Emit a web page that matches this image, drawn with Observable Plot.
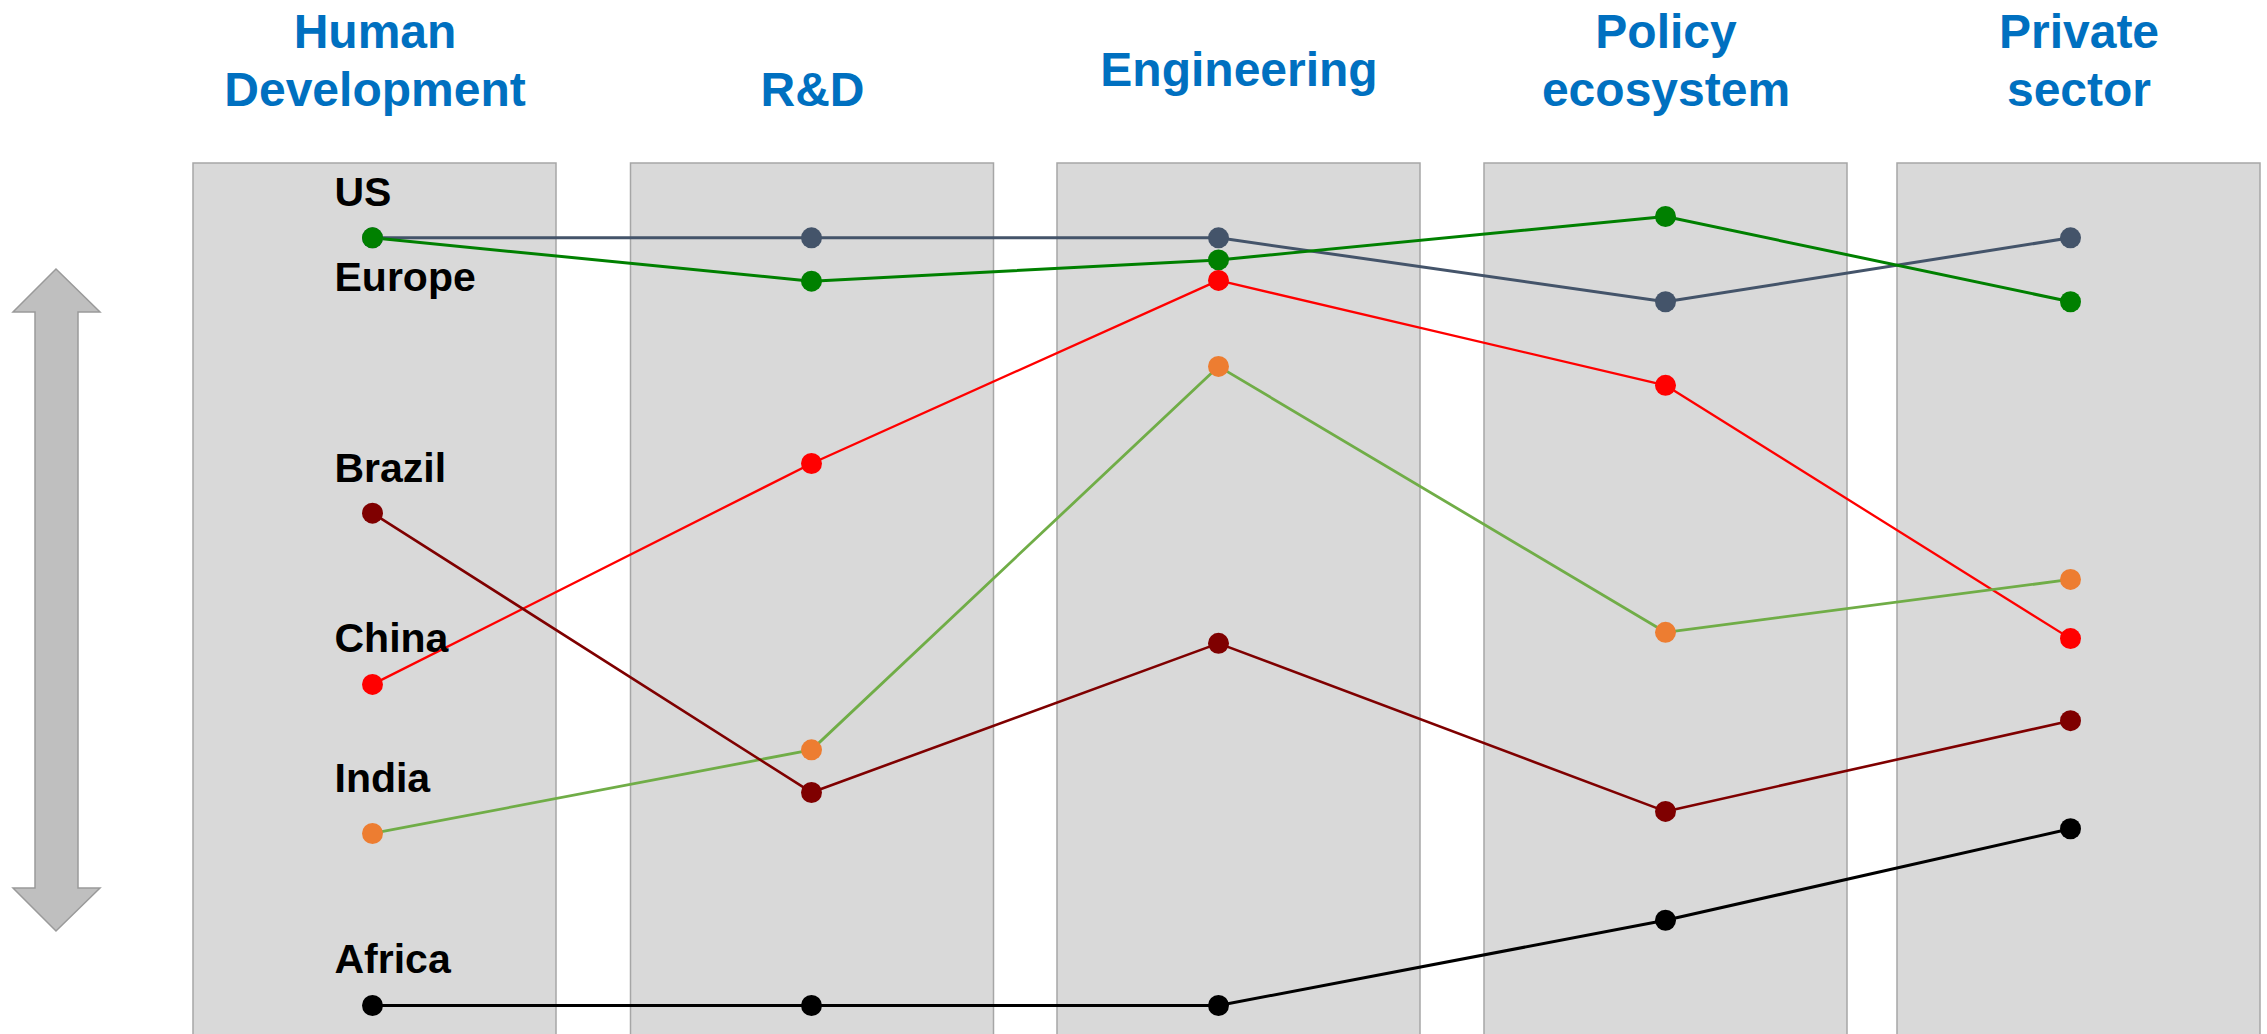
<!DOCTYPE html>
<html>
<head>
<meta charset="utf-8">
<script src="https://cdn.jsdelivr.net/npm/d3@7"></script>
<script src="https://cdn.jsdelivr.net/npm/@observablehq/plot@0.6"></script>
<style>
  html, body { margin: 0; padding: 0; background: #fff; }
  #chart svg { display: block; }
</style>
</head>
<body>
<div id="chart"></div>
<script>
// ---- Data ----
const pillars = ["Human\nDevelopment", "R&D", "Engineering", "Policy\necosystem", "Private\nsector"];
const countries = ["US", "Europe", "China", "India", "Brazil", "Africa"];
const usValues     = [97.3, 97.3, 97.3, 89.2, 97.3];
const europeValues = [97.3, 91.8, 94.5, 100.0, 89.2];
const chinaValues  = [40.7, 68.7, 91.9, 78.6, 46.5];
const indiaValues  = [21.8, 32.4, 81.0, 47.3, 54.0];
const brazilValues = [62.4, 27.0, 45.9, 24.6, 36.1];
const africaValues = [0.0, 0.0, 0.0, 10.8, 22.4];

const valuesByCountry = {
  US: usValues, Europe: europeValues, China: chinaValues,
  India: indiaValues, Brazil: brazilValues, Africa: africaValues
};

// ---- Styles ----
const styles = {
  US:     {dot: "#44546A", line: "#44546A", width: 3,   labelDy: -32},
  Europe: {dot: "#008000", line: "#008000", width: 3,   labelDy: 53},
  China:  {dot: "#FF0000", line: "#FF0000", width: 2.3, labelDy: -32},
  India:  {dot: "#ED7D31", line: "#70AD47", width: 2.8, labelDy: -41},
  Brazil: {dot: "#7F0000", line: "#7F0000", width: 2.6, labelDy: -31},
  Africa: {dot: "#000000", line: "#000000", width: 3,   labelDy: -33}
};
// small horizontal offsets of each panel / header relative to its column of dots (layout)
const panelShift = [2.5, 1, 20.5, 0.5, 8.5];

const rows = countries.flatMap(c => valuesByCountry[c].map((v, i) => ({country: c, i, v})));
const FONT = "'Liberation Sans', Arial, Helvetica, sans-serif";

function leftArrow() {
  const d = "M56,269 L100,312 L78,312 L78,888 L100,888 L56,931 L13,888 L35,888 L35,312 L13,312 Z";
  return d3.create("svg:path")
    .attr("d", d)
    .attr("fill", "#BFBFBF")
    .attr("stroke", "#9A9A9A")
    .attr("stroke-width", 1.5)
    .node();
}

const headerIdx = pillars.map((d, i) => i);

const marks = [
  // column panels
  ...headerIdx.map(k => Plot.rect([k], {
    x1: d => d, x2: d => d, dx: panelShift[k],
    insetLeft: -181.5, insetRight: -181.5, insetTop: 163, insetBottom: -10,
    fill: "#D9D9D9", stroke: "#A6A6A6", strokeWidth: 1.5
  })),
  leftArrow,
  // column headers
  ...headerIdx.map(k => Plot.text([k], {
    x: d => d, text: d => pillars[d], frameAnchor: "top",
    dx: panelShift[k], dy: k === 2 ? 85 : 105,
    lineAnchor: "bottom", lineHeight: 1.2, fontSize: 48, fontWeight: "bold",
    fill: "#0070C0", textAnchor: "middle"
  })),
  // lines
  ...countries.map(c => Plot.line(rows.filter(r => r.country === c), {
    x: "i", y: "v", stroke: styles[c].line, strokeWidth: styles[c].width
  })),
  // dots
  ...countries.map(c => Plot.dot(rows.filter(r => r.country === c), {
    x: "i", y: "v", r: 10.5, fill: styles[c].dot, stroke: "none"
  })),
  // country labels
  ...countries.map(c => Plot.text(rows.filter(r => r.country === c && r.i === 0), {
    x: "i", y: "v", text: "country", dx: -38, dy: styles[c].labelDy,
    lineAnchor: "bottom", textAnchor: "start", fontSize: 41, fontWeight: "bold", fill: "#000"
  }))
];

const chart = Plot.plot({
  width: 2267,
  height: 1034,
  margin: 0,
  style: {fontFamily: FONT, background: "#fff", overflow: "hidden"},
  x: {type: "linear", domain: [0, 1, 2, 3, 4], range: [372, 811, 1218, 1665, 2070], axis: null},
  y: {type: "linear", domain: [0, 100], range: [1005, 216], axis: null},
  marks
});
document.getElementById("chart").appendChild(chart);
</script>
</body>
</html>
